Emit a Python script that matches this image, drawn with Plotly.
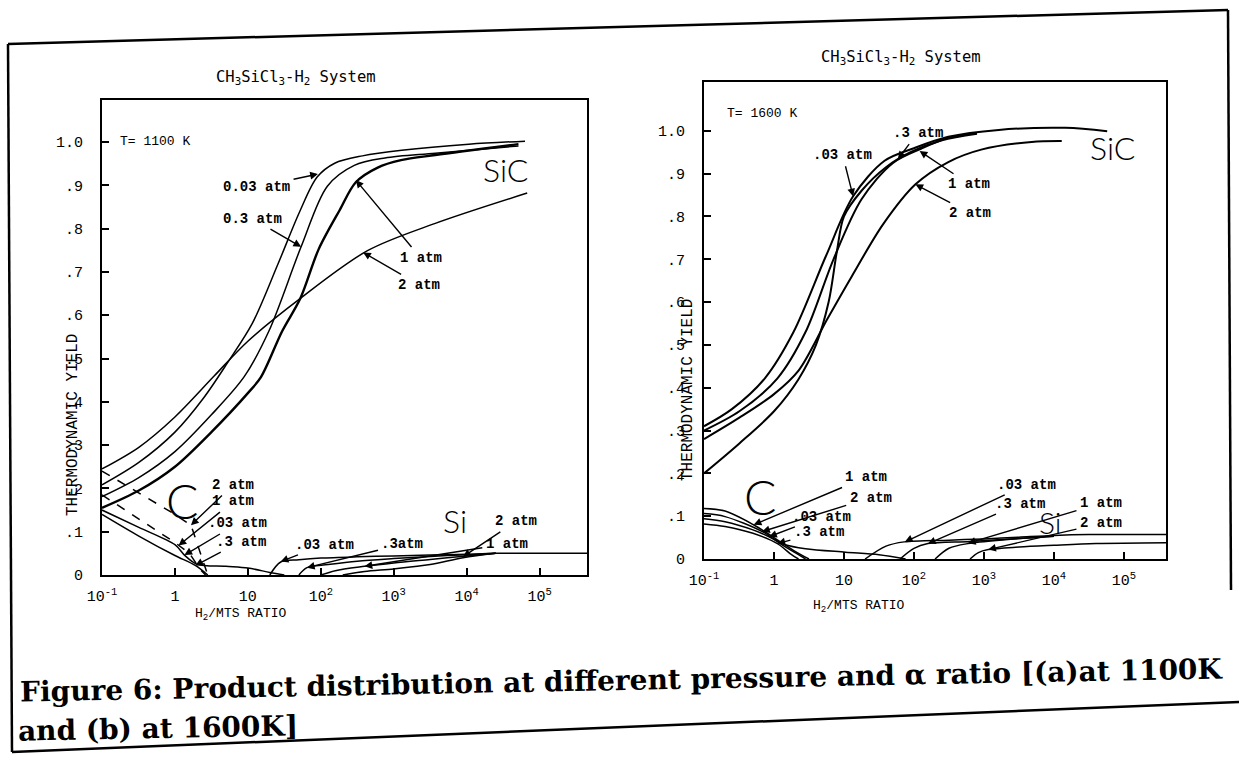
import plotly.graph_objects as go

W, H = 1239, 758

# ================= DATA =================
# x = H2/MTS ratio, y = thermodynamic yield
# ---- (a) T = 1100 K ----
a_sic_003_x = [0.1, 0.32, 1.0, 2.5, 5.25, 11.5, 25.7, 51.3, 89.1, 155, 372, 1288, 10700, 63100]
a_sic_003_y = [0.208, 0.26, 0.33, 0.41, 0.49, 0.581, 0.717, 0.839, 0.919, 0.951, 0.968, 0.981, 0.995, 1.002]
a_sic_03_x = [0.1, 0.32, 1.0, 3.16, 8.91, 19.5, 53.7, 123, 288, 759, 3715, 51300]
a_sic_03_y = [0.181, 0.225, 0.285, 0.37, 0.458, 0.564, 0.758, 0.898, 0.946, 0.963, 0.974, 0.991]
a_sic_1_x = [0.1, 0.32, 1.0, 3.16, 10, 15.1, 29.5, 52.5, 93.3, 182, 302, 603, 1259, 3715, 51300]
a_sic_1_y = [0.155, 0.195, 0.25, 0.33, 0.42, 0.457, 0.563, 0.639, 0.752, 0.843, 0.907, 0.941, 0.958, 0.970, 0.995]
a_sic_2_x = [0.1, 0.32, 1.0, 3.47, 10, 52.5, 437, 3715, 67600]
a_sic_2_y = [0.245, 0.295, 0.365, 0.46, 0.54, 0.639, 0.749, 0.812, 0.882]

a_c_2_x = [0.1, 0.32, 1.0, 1.66, 2.24, 2.82]
a_c_2_y = [0.24, 0.19, 0.14, 0.115, 0.05, 0.0]
a_c_1_x = [0.1, 0.32, 1.0, 1.58, 2.24, 2.63]
a_c_1_y = [0.185, 0.13, 0.075, 0.05, 0.012, 0.0]
a_c_003_x = [0.1, 0.32, 1.0, 1.35, 2.0, 5.01, 10, 20, 31.6]
a_c_003_y = [0.15, 0.11, 0.07, 0.046, 0.025, 0.02, 0.016, 0.006, 0.0]
a_c_03_x = [0.1, 0.32, 1.0, 1.9, 2.82]
a_c_03_y = [0.14, 0.09, 0.045, 0.022, 0.0]

a_si_003_x = [20, 28.2, 50.1, 100, 316, 1000, 3162, 10000, 25100, 447000]
a_si_003_y = [0.0, 0.03, 0.035, 0.039, 0.042, 0.044, 0.046, 0.048, 0.05, 0.05]
a_si_03_x = [50.1, 64.6, 126, 316, 1000, 3162, 10000, 25100]
a_si_03_y = [0.0, 0.017, 0.024, 0.032, 0.038, 0.043, 0.047, 0.05]
a_si_1_x = [100, 158, 398, 1000, 3162, 10000, 25100]
a_si_1_y = [0.0, 0.01, 0.02, 0.028, 0.036, 0.044, 0.05]
a_si_2_x = [200, 398, 1000, 3162, 8910, 25100]
a_si_2_y = [0.0, 0.008, 0.014, 0.024, 0.04, 0.05]

# ---- (b) T = 1600 K ----
b_sic_003_x = [0.1, 0.25, 0.74, 1.9, 5.5, 13.5, 38, 102, 309, 1622, 14500, 57500]
b_sic_003_y = [0.31, 0.35, 0.422, 0.53, 0.707, 0.847, 0.93, 0.96, 0.986, 1.002, 1.007, 0.999]
b_sic_03_x = [0.1, 0.32, 1.12, 2.82, 7.08, 17.8, 50.1, 126, 316, 794]
b_sic_03_y = [0.30, 0.345, 0.422, 0.53, 0.70, 0.84, 0.925, 0.958, 0.984, 0.995]
b_sic_1_x = [0.1, 0.32, 1.0, 2.24, 3.98, 6.03, 7.94, 10, 17.8, 39.8, 89.1, 251, 794]
b_sic_1_y = [0.20, 0.27, 0.345, 0.42, 0.50, 0.60, 0.72, 0.80, 0.86, 0.915, 0.95, 0.978, 0.993]
b_sic_2_x = [0.1, 0.32, 1.0, 2.24, 5.75, 12.9, 36.3, 105, 309, 912, 4786, 12900]
b_sic_2_y = [0.28, 0.33, 0.385, 0.44, 0.56, 0.66, 0.782, 0.875, 0.927, 0.956, 0.974, 0.976]

b_c_1_x = [0.1, 0.2, 0.51, 1.0, 2.0, 3.16]
b_c_1_y = [0.118, 0.112, 0.08, 0.05, 0.018, 0.0]
b_c_2_x = [0.1, 0.2, 0.68, 1.26, 2.24, 2.82]
b_c_2_y = [0.106, 0.099, 0.064, 0.035, 0.01, 0.0]
b_c_003_x = [0.1, 0.2, 0.5, 0.85, 1.41, 2.82, 10.5, 31.6, 75.9]
b_c_003_y = [0.094, 0.087, 0.068, 0.052, 0.034, 0.024, 0.016, 0.01, 0.0]
b_c_03_x = [0.1, 0.2, 0.5, 1.12, 1.78, 2.24]
b_c_03_y = [0.082, 0.076, 0.06, 0.036, 0.01, 0.0]

b_si_003_x = [20, 39.8, 72.4, 316, 1000, 3162, 10000, 31600, 398000]
b_si_003_y = [0.0, 0.03, 0.04, 0.044, 0.047, 0.051, 0.055, 0.057, 0.057]
b_si_03_x = [63.1, 100, 158, 631, 3162, 10000]
b_si_03_y = [0.0, 0.025, 0.036, 0.041, 0.048, 0.053]
b_si_1_x = [200, 316, 589, 1995, 10000]
b_si_1_y = [0.0, 0.025, 0.036, 0.045, 0.053]
b_si_2_x = [631, 832, 1150, 3162, 10000, 39800, 398000]
b_si_2_y = [0.0, 0.015, 0.022, 0.028, 0.032, 0.036, 0.038]

x_tickvals = [0.1, 1, 10, 100, 1000, 10000, 100000]
x_ticktext = ['10<sup>-1</sup>', '1', '10', '10<sup>2</sup>', '10<sup>3</sup>', '10<sup>4</sup>', '10<sup>5</sup>']
y_tickvals = [0, 0.1, 0.2, 0.3, 0.4, 0.5, 0.6, 0.7, 0.8, 0.9, 1.0]
y_ticktext = ['0', '.1', '.2', '.3', '.4', '.5', '.6', '.7', '.8', '.9', '1.0']

# ================= FIGURE =================
fig = go.Figure()


def add(xs, ys, panel, width=1.5, dash='solid', shape='spline'):
    xa, ya = ('x', 'y') if panel == 1 else ('x2', 'y2')
    fig.add_trace(go.Scatter(x=xs, y=ys, mode='lines', xaxis=xa, yaxis=ya,
                             line=dict(color='black', width=width, dash=dash, shape=shape, smoothing=0.9),
                             hoverinfo='skip', showlegend=False))


# panel (a)
add(a_sic_003_x, a_sic_003_y, 1)
add(a_sic_03_x, a_sic_03_y, 1)
add(a_sic_1_x, a_sic_1_y, 1, width=2.4)
add(a_sic_2_x, a_sic_2_y, 1)
add(a_c_2_x, a_c_2_y, 1, dash='dash', shape='linear')
add(a_c_1_x, a_c_1_y, 1, dash='dash', shape='linear')
add(a_c_003_x, a_c_003_y, 1)
add(a_c_03_x, a_c_03_y, 1)
add(a_si_003_x, a_si_003_y, 1)
add(a_si_03_x, a_si_03_y, 1)
add(a_si_1_x, a_si_1_y, 1)
add(a_si_2_x, a_si_2_y, 1)
# panel (b)
add(b_sic_003_x, b_sic_003_y, 2, width=2.0)
add(b_sic_03_x, b_sic_03_y, 2, width=2.0)
add(b_sic_1_x, b_sic_1_y, 2, width=2.0)
add(b_sic_2_x, b_sic_2_y, 2, width=2.0)
add(b_c_1_x, b_c_1_y, 2)
add(b_c_2_x, b_c_2_y, 2)
add(b_c_003_x, b_c_003_y, 2)
add(b_c_03_x, b_c_03_y, 2)
add(b_si_003_x, b_si_003_y, 2)
add(b_si_03_x, b_si_03_y, 2)
add(b_si_1_x, b_si_1_y, 2)
add(b_si_2_x, b_si_2_y, 2)

MONO = 'Liberation Mono'
tickfont = dict(family=MONO, size=15, color='black')


def xaxis_cfg(domain, rng, anchor):
    return dict(type='log', domain=domain, range=rng, anchor=anchor, automargin=False,
                tickvals=x_tickvals, ticktext=x_ticktext, ticks='inside', ticklen=7, tickwidth=1.5,
                tickcolor='black', showline=True, mirror=True, linewidth=2.2, linecolor='black',
                showgrid=False, zeroline=False, tickfont=tickfont, ticklabelstandoff=6)


def yaxis_cfg(domain, rng, anchor):
    return dict(domain=domain, range=rng, anchor=anchor, automargin=False,
                tickvals=y_tickvals, ticktext=y_ticktext, ticks='inside', ticklen=7, tickwidth=1.5,
                tickcolor='black', showline=True, mirror=True, linewidth=2.2, linecolor='black',
                showgrid=False, zeroline=False, tickfont=tickfont, ticklabelstandoff=14)


fig.update_layout(
    width=W, height=H, autosize=False,
    margin=dict(l=0, r=0, t=0, b=0, pad=0, autoexpand=False),
    paper_bgcolor='white', plot_bgcolor='white',
    showlegend=False,
    xaxis=xaxis_cfg([102 / W, 587 / W], [-1, 5.65], 'y'),
    yaxis=yaxis_cfg([1 - 575 / H, 1 - 100 / H], [0, 1.097], 'x'),
    xaxis2=xaxis_cfg([704 / W, 1166 / W], [-1, 5.6], 'y2'),
    yaxis2=yaxis_cfg([1 - 559 / H, 1 - 82 / H], [0, 1.114], 'x2'),
)

# --- arrow labels: (text, panel, head log10x, head y, text log10x, text y) ---
arrow_labels = [
    ('0.03 atm', 1, 1.96, 0.926, 1.12, 0.896),
    ('0.3 atm', 1, 1.73, 0.758, 1.06, 0.823),
    ('1 atm', 1, 2.48, 0.912, 3.37, 0.732),
    ('2 atm', 1, 2.58, 0.745, 3.35, 0.67),
    ('2 atm', 1, 0.22, 0.115, 0.80, 0.209),
    ('1 atm', 1, 0.05, 0.068, 0.80, 0.170),
    ('.03 atm', 1, 0.13, 0.046, 0.86, 0.119),
    ('.3 atm', 1, 0.28, 0.022, 0.90, 0.077),
    ('.03 atm', 1, 1.45, 0.031, 2.05, 0.07),
    ('.3atm', 1, 1.81, 0.017, 3.12, 0.071),
    ('2 atm', 1, 3.95, 0.042, 4.68, 0.124),
    ('1 atm', 1, 2.6, 0.02, 4.55, 0.072),
    ('.03 atm', 2, 1.13, 0.847, 0.98, 0.944),
    ('.3 atm', 2, 1.77, 0.934, 2.05, 0.995),
    ('1 atm', 2, 2.08, 0.953, 2.79, 0.875),
    ('2 atm', 2, 2.02, 0.875, 2.80, 0.808),
    ('1 atm', 2, -0.29, 0.08, 1.32, 0.191),
    ('2 atm', 2, -0.17, 0.064, 1.38, 0.143),
    ('.03 atm', 2, -0.07, 0.052, 0.68, 0.099),
    ('.3 atm', 2, 0.05, 0.036, 0.64, 0.062),
    ('.03 atm', 2, 1.87, 0.04, 3.61, 0.174),
    ('.3 atm', 2, 2.2, 0.036, 3.51, 0.129),
    ('1 atm', 2, 2.77, 0.037, 4.67, 0.13),
    ('2 atm', 2, 3.06, 0.022, 4.67, 0.083),
]
lblfont = dict(family=MONO, size=14, color='black')
for txt, p, hx, hy, tx, ty in arrow_labels:
    xr, yr = ('x', 'y') if p == 1 else ('x2', 'y2')
    fig.add_annotation(text='<b>%s</b>' % txt, x=hx, y=hy, xref=xr, yref=yr,
                       ax=tx, ay=ty, axref=xr, ayref=yr, showarrow=True,
                       arrowhead=2, arrowsize=1.1, arrowwidth=1.4, arrowcolor='black',
                       font=lblfont, standoff=0, startstandoff=2)


# --- plain texts placed on the page (pixel positions -> paper) ---
def ptext(txt, x, y, size, family, xanchor='center', angle=0, weight=None):
    font = dict(family=family, size=size, color='black')
    if weight is not None:
        font['weight'] = weight
    fig.add_annotation(text=txt, x=x / W, y=1 - y / H, xref='paper', yref='paper',
                       showarrow=False, xanchor=xanchor, yanchor='middle', textangle=angle,
                       font=font)


HAND = 'Lato'
title_txt = 'CH<sub>3</sub>SiCl<sub>3</sub>-H<sub>2</sub> System'
ptext(title_txt, 296, 78, 15.5, 'DejaVu Sans Mono')
ptext(title_txt, 901, 58, 15.5, 'DejaVu Sans Mono')
ptext('T= 1100 K', 118, 141, 13, MONO, xanchor='left')
ptext('T= 1600 K', 725, 113, 13, MONO, xanchor='left')
ptext('SiC', 505, 170, 32, HAND, weight=300)
ptext('SiC', 1112, 147, 32, HAND, weight=300)
ptext('C', 182, 500, 48, HAND, weight=300)
ptext('C', 760, 496, 48, HAND, weight=300)
ptext('Si', 455, 520, 32, HAND, weight=300)
ptext('Si', 1050, 522, 30, HAND, weight=300)
ptext('THERMODYNAMIC YIELD', 73, 425, 16, MONO, angle=-90)
ptext('THERMODYNAMIC YIELD', 688, 390, 16, MONO, angle=-90)
ptext('H<sub>2</sub>/MTS RATIO', 240, 614, 13, MONO)
ptext('H<sub>2</sub>/MTS RATIO', 858, 606, 13, MONO)

# caption
CAP = 'DejaVu Serif'
fig.add_annotation(text='<b>Figure 6: Product distribution at different pressure and α ratio [(a)at 1100K</b>',
                   x=622 / W, y=1 - 680 / H, xref='paper', yref='paper', showarrow=False,
                   xanchor='center', yanchor='middle', textangle=-1.1,
                   font=dict(family=CAP, size=28, color='black'))
fig.add_annotation(text='<b>and (b) at 1600K]</b>',
                   x=158 / W, y=1 - 728 / H, xref='paper', yref='paper', showarrow=False,
                   xanchor='center', yanchor='middle', textangle=-1.1,
                   font=dict(family=CAP, size=28, color='black'))


# outer frame of the scanned figure
def pline(x0, y0, x1, y1, w=2.5):
    fig.add_shape(type='line', xref='paper', yref='paper', x0=x0 / W, y0=1 - y0 / H,
                  x1=x1 / W, y1=1 - y1 / H, line=dict(color='black', width=w))


pline(8, 44, 1228, 10)
pline(8, 44, 12, 752)
pline(12, 752, 1239, 702)
pline(1228, 10, 1231, 590)

fig.write_html('out.html')
